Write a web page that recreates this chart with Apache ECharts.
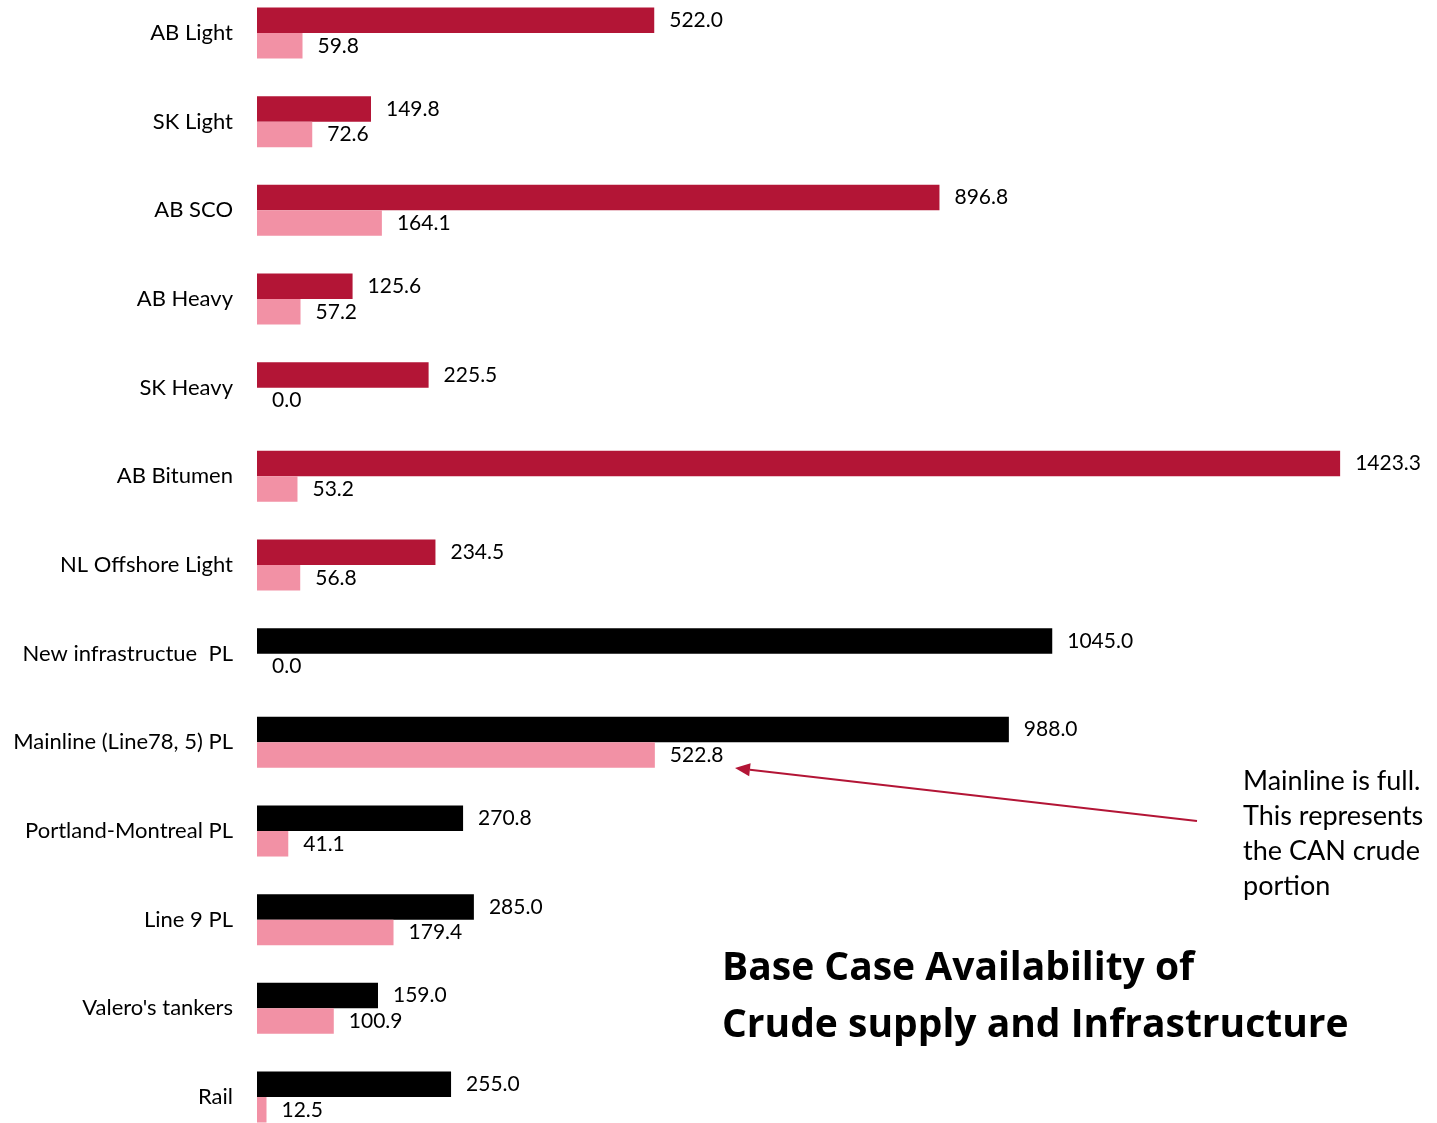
<!DOCTYPE html>
<html>
<head>
<meta charset="utf-8">
<script src="https://cdn.jsdelivr.net/npm/echarts@6/dist/echarts.min.js"></script>
<style>
  html, body { margin: 0; padding: 0; background: #fff; }
  #chart { width: 1437px; height: 1123px; }
</style>
</head>
<body>
<div id="chart"></div>
<script>
// Crude sources and transport routes (top to bottom)
const categories = [
  'AB Light', 'SK Light', 'AB SCO', 'AB Heavy', 'SK Heavy', 'AB Bitumen',
  'NL Offshore Light', 'New infrastructue  PL', 'Mainline (Line78, 5) PL',
  'Portland-Montreal PL', 'Line 9 PL', "Valero's tankers", 'Rail'
];
// Total availability / capacity
const totalValues = [522.0, 149.8, 896.8, 125.6, 225.5, 1423.3, 234.5, 1045.0, 988.0, 270.8, 285.0, 159.0, 255.0];
// Portion available to the refinery
const portionValues = [59.8, 72.6, 164.1, 57.2, 0.0, 53.2, 56.8, 0.0, 522.8, 41.1, 179.4, 100.9, 12.5];
// Supply rows are red, infrastructure rows are black
const supplyCount = 7;

const RED = '#B31536';
const PINK = '#F291A5';
const FONT = 'Lato, "Open Sans", sans-serif';
const TITLE_FONT = '"Open Sans", Lato, sans-serif';

const chart = echarts.init(document.getElementById('chart'));

const rowH = 88.67;
const labelStyle = {
  show: true,
  position: 'right',
  distance: 15,
  fontSize: 21,
  fontFamily: FONT,
  color: '#000',
  formatter: p => Number(p.value).toFixed(1)
};

// Arrow pointing from the note to the Mainline CAN-crude bar
const tail = [1197, 821], tip = [735, 768];
const dx = tip[0] - tail[0], dy = tip[1] - tail[1];
const len = Math.hypot(dx, dy);
const ux = dx / len, uy = dy / len;
const headL = 15, headW = 6.5;
const bx = tip[0] - ux * headL, by = tip[1] - uy * headL;
const head = [
  tip,
  [bx - uy * headW, by + ux * headW],
  [bx + uy * headW, by - ux * headW]
];

chart.setOption({
  animation: false,
  backgroundColor: '#fff',
  grid: {
    left: 257, top: 33 - rowH / 2, width: 1141.5, height: rowH * 13,
    containLabel: false, outerBoundsMode: 'none'
  },
  xAxis: {
    type: 'value', min: 0, max: 1500, show: false
  },
  yAxis: {
    type: 'category',
    data: categories,
    inverse: true,
    axisLine: { show: false },
    axisTick: { show: false },
    splitLine: { show: false },
    axisLabel: { margin: 24, fontSize: 22, fontFamily: FONT, color: '#000' }
  },
  series: [
    {
      type: 'bar',
      barWidth: 25.5,
      barGap: '0%',
      data: totalValues.map((v, i) => ({
        value: v,
        itemStyle: { color: i < supplyCount ? RED : '#000' }
      })),
      label: labelStyle
    },
    {
      type: 'bar',
      barWidth: 25.5,
      barGap: '0%',
      data: portionValues,
      itemStyle: { color: PINK },
      label: labelStyle
    }
  ],
  graphic: [
    {
      type: 'polyline',
      shape: { points: [tail, [bx, by]] },
      style: { stroke: RED, lineWidth: 2, fill: null },
      z: 10
    },
    {
      type: 'polygon',
      shape: { points: head },
      style: { fill: RED },
      z: 10
    },
    {
      type: 'text',
      left: 1243, top: 764,
      style: {
        text: 'Mainline is full.\nThis represents\nthe CAN crude\nportion',
        fontSize: 27, lineHeight: 35, fontFamily: FONT, fill: '#000'
      }
    },
    {
      type: 'text',
      left: 722, top: 940,
      style: {
        text: 'Base Case Availability of\nCrude supply and Infrastructure',
        fontSize: 39, lineHeight: 57, fontWeight: 'bold', fontFamily: TITLE_FONT, fill: '#000'
      }
    }
  ]
});
</script>
</body>
</html>
